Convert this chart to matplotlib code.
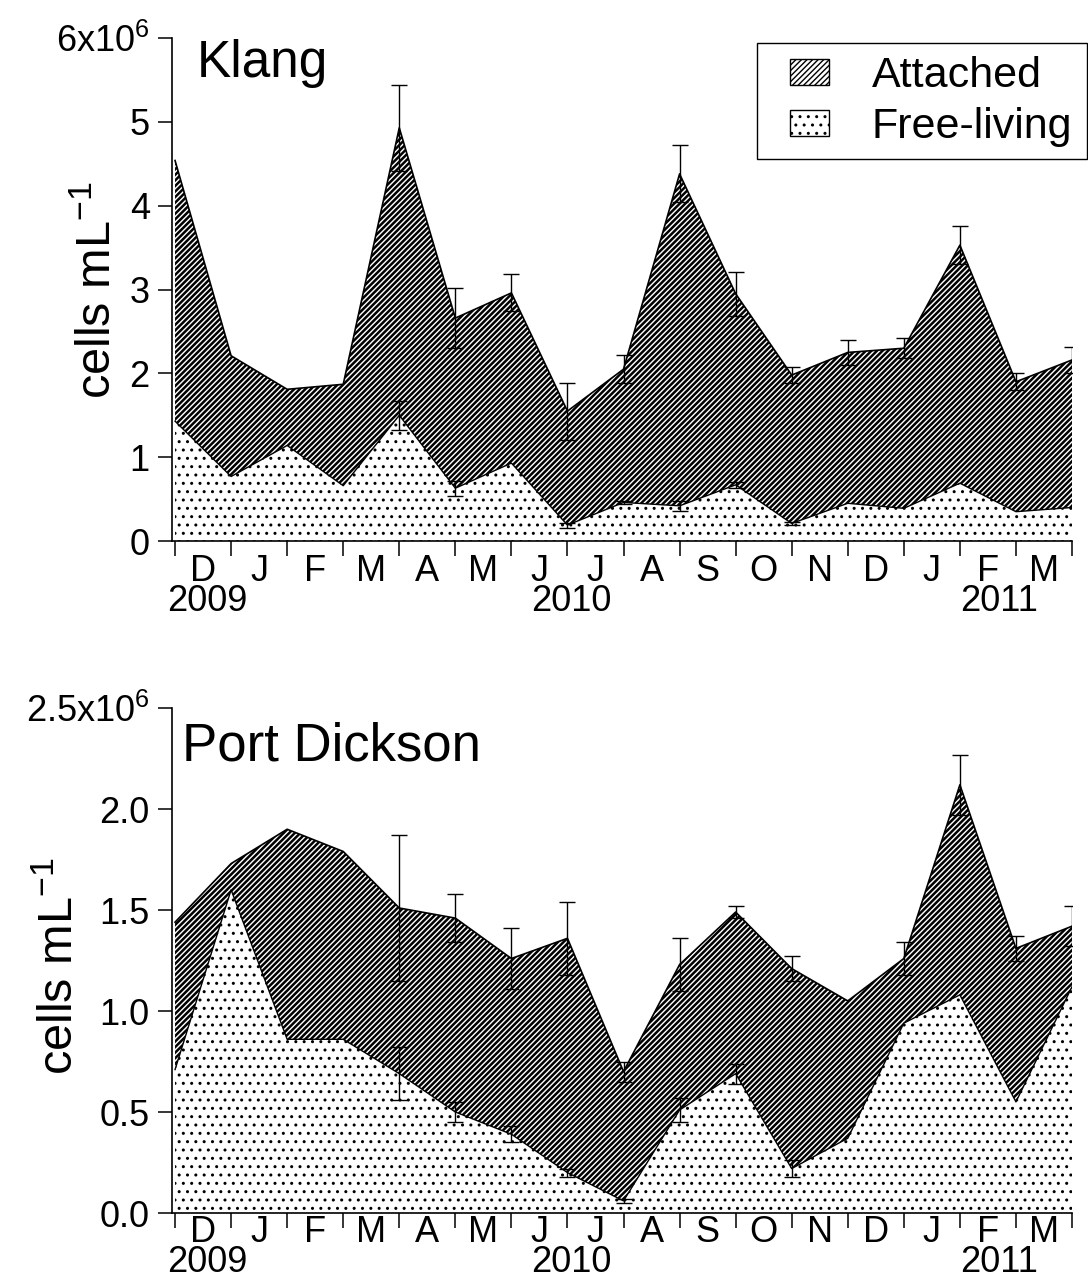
import numpy as np
import matplotlib
matplotlib.use('Agg')
import matplotlib.pyplot as plt
from matplotlib.patches import Patch, Rectangle

plt.rcParams['font.family'] = 'Liberation Sans'
plt.rcParams['mathtext.fontset'] = 'custom'
plt.rcParams['mathtext.rm'] = 'Liberation Sans'
plt.rcParams['mathtext.it'] = 'Liberation Sans'
plt.rcParams['mathtext.bf'] = 'Liberation Sans:bold'

# Sampling months (Nov 2009 - Mar 2011), one point per month boundary
month_labels = ['D', 'J', 'F', 'M', 'A', 'M', 'J', 'J', 'A', 'S', 'O', 'N', 'D', 'J', 'F', 'M']
year_labels = ['2009', '2010', '2011']
year_pos = [0.57, 7.07, 14.7]

# Klang (cells mL-1, x10^6)
klang_total = [4.54, 2.21, 1.81, 1.87, 4.93, 2.66, 2.96, 1.55, 2.05, 4.38, 2.95, 1.98, 2.25, 2.30, 3.53, 1.90, 2.16]
klang_total_err = [0, 0, 0, 0, 0.51, 0.36, 0.22, 0.34, 0.17, 0.34, 0.26, 0.10, 0.15, 0.12, 0.23, 0.10, 0.15]
klang_free = [1.43, 0.77, 1.14, 0.66, 1.50, 0.63, 0.93, 0.19, 0.46, 0.42, 0.67, 0.21, 0.45, 0.39, 0.69, 0.35, 0.40]
klang_free_err = [0, 0, 0, 0, 0.17, 0.09, 0, 0.03, 0.02, 0.06, 0.04, 0.02, 0, 0, 0, 0, 0]

# Port Dickson (cells mL-1, x10^6)
pd_total = [1.44, 1.73, 1.90, 1.79, 1.51, 1.46, 1.26, 1.36, 0.70, 1.23, 1.49, 1.21, 1.05, 1.26, 2.12, 1.31, 1.42]
pd_total_err = [0, 0, 0, 0, 0.36, 0.12, 0.15, 0.18, 0.05, 0.13, 0.03, 0.06, 0, 0.08, 0.15, 0.06, 0.10]
pd_free = [0.71, 1.60, 0.86, 0.86, 0.69, 0.50, 0.39, 0.20, 0.06, 0.51, 0.69, 0.22, 0.37, 0.94, 1.08, 0.55, 1.12]
pd_free_err = [0, 0, 0, 0, 0.13, 0.05, 0.04, 0.02, 0.01, 0.06, 0.05, 0.04, 0, 0, 0, 0, 0]

klang_yticks = [0, 1, 2, 3, 4, 5, 6]
klang_yticklabels = ['0', '1', '2', '3', '4', '5', r'6x10$^{6}$']
pd_yticks = [0, 0.5, 1.0, 1.5, 2.0, 2.5]
pd_yticklabels = ['0.0', '0.5', '1.0', '1.5', '2.0', r'2.5x10$^{6}$']

LINE_HATCH = '//////'
DOT_HATCH = '..'
LINE_HATCH_LW = 1.8
DOT_HATCH_LW = 1.0


def hatched_fill(ax, x, y1, y2, hatch, hatch_lw):
    with plt.rc_context({'hatch.linewidth': hatch_lw}):
        coll = ax.fill_between(x, y1, y2, facecolor='white', edgecolor='black', hatch=hatch,
                               linewidth=0, zorder=1)
    if hasattr(coll, 'set_hatch_linewidth'):
        coll.set_hatch_linewidth(hatch_lw)
    return coll


def errbars(ax, x, y, err):
    x = np.asarray(x)
    y = np.asarray(y)
    err = np.asarray(err)
    m = err > 0
    ax.errorbar(x[m], y[m], yerr=err[m], fmt='none', ecolor='k', elinewidth=1.0,
                capsize=5.5, capthick=1.0, zorder=4)


def draw_panel(ax, total, total_err, free, free_err, ymax, yticks, yticklabels,
               month_pad, year_offset):
    x = np.arange(len(total))
    hatched_fill(ax, x, 0, free, DOT_HATCH, DOT_HATCH_LW)
    hatched_fill(ax, x, free, total, LINE_HATCH, LINE_HATCH_LW)
    ax.plot(x, total, color='k', lw=1.2, zorder=3)
    ax.plot(x, free, color='k', lw=1.0, zorder=3)
    errbars(ax, x, total, total_err)
    errbars(ax, x, free, free_err)

    ax.set_xlim(-0.054, len(total) - 1)
    ax.set_ylim(0, ymax)
    ax.spines['top'].set_visible(False)
    ax.spines['right'].set_visible(False)
    ax.spines['left'].set_linewidth(1.2)
    ax.spines['bottom'].set_linewidth(1.2)

    ax.set_yticks(yticks)
    ax.set_yticklabels(yticklabels)
    ax.tick_params(axis='y', direction='out', length=10, width=1.1, pad=6, labelsize=26)

    ax.set_xticks(x)
    ax.set_xticklabels([])
    ax.set_xticks(np.arange(len(month_labels)) + 0.5, minor=True)
    ax.set_xticklabels(month_labels, minor=True)
    ax.tick_params(axis='x', which='major', direction='out', length=11, width=1.1)
    ax.tick_params(axis='x', which='minor', length=0, pad=month_pad, labelsize=26)

    for yl, yp in zip(year_labels, year_pos):
        ax.annotate(yl, xy=(yp, 0), xycoords=('data', 'axes fraction'), xytext=(0, year_offset),
                    textcoords='offset points', ha='center', va='top', fontsize=26)


fig = plt.figure(figsize=(10.88, 12.79), dpi=100)
ax1 = fig.add_axes([0.1581, 0.577, 0.8272, 0.3932])
ax2 = fig.add_axes([0.1581, 0.0516, 0.8272, 0.3948])

draw_panel(ax1, klang_total, klang_total_err, klang_free, klang_free_err, 6,
           klang_yticks, klang_yticklabels, month_pad=9, year_offset=-31)
draw_panel(ax2, pd_total, pd_total_err, pd_free, pd_free_err, 2.5,
           pd_yticks, pd_yticklabels, month_pad=1.5, year_offset=-23)

ax1.text(0.027, 0.922, 'Klang', transform=ax1.transAxes, fontsize=37, va='baseline')
ax2.text(0.011, 0.897, 'Port Dickson', transform=ax2.transAxes, fontsize=38, va='baseline')

ax1.set_ylabel(r'cells mL$^{-1}$', fontsize=35)
ax1.yaxis.set_label_coords(-0.057, 0.5)
ax2.set_ylabel(r'cells mL$^{-1}$', fontsize=35)
ax2.yaxis.set_label_coords(-0.099, 0.49)

# legend: entries without frame, frame drawn as a plain box like the original
handles = []
for h, hlw in [(LINE_HATCH, LINE_HATCH_LW), (DOT_HATCH, DOT_HATCH_LW)]:
    with plt.rc_context({'hatch.linewidth': hlw}):
        p = Patch(facecolor='white', edgecolor='black', hatch=h, linewidth=1.0)
    handles.append(p)
leg = ax1.legend(handles, ['Attached', 'Free-living'], loc='upper left',
                 bbox_to_anchor=(790 / 1088, 1 - 56 / 1279), bbox_transform=fig.transFigure,
                 fontsize=31, frameon=False,
                 handlelength=0.9, handleheight=0.55, handletextpad=1.0,
                 borderpad=0, labelspacing=0.26, borderaxespad=0)
fig.add_artist(Rectangle((757 / 1088, 1 - 159 / 1279), 330 / 1088, 116 / 1279,
                         transform=fig.transFigure, facecolor='white', edgecolor='black',
                         linewidth=1.0, zorder=5))
leg.set_zorder(6)
leg.remove()
fig.add_artist(leg)

fig.savefig('out.png', dpi=100)
